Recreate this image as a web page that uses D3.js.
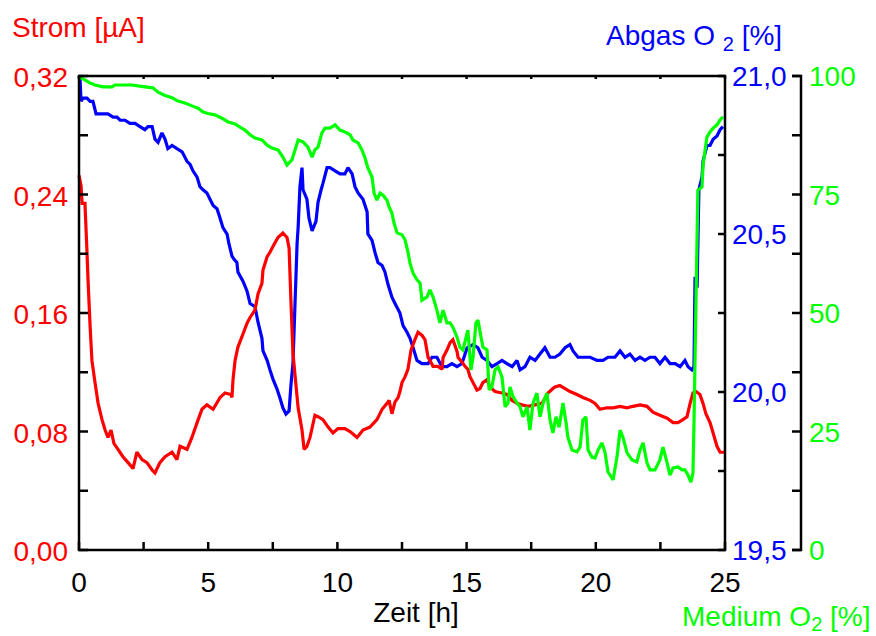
<!DOCTYPE html>
<html>
<head>
<meta charset="utf-8">
<script src="https://cdn.jsdelivr.net/npm/d3@7"></script>
<style>
  body { margin: 0; background: #fff; }
  svg { display: block; }
  text { font-family: "Liberation Sans", Arial, Helvetica, sans-serif; }
</style>
</head>
<body>
<svg id="chart" width="876" height="636"></svg>
<script>
// Sensor current [µA] over time [h]
const stromData = [
  [0.00,0.253],[0.08,0.246],[0.12,0.234],[0.23,0.234],[0.31,0.201],[0.35,0.182],[0.43,0.151],
  [0.50,0.128],[0.62,0.113],[0.74,0.099],[0.89,0.088],[1.01,0.081],[1.12,0.076],[1.24,0.081],
  [1.35,0.072],[1.51,0.068],[1.70,0.063],[1.90,0.059],[2.09,0.055],[2.24,0.066],[2.44,0.061],
  [2.63,0.059],[2.83,0.054],[2.94,0.052],[3.13,0.059],[3.33,0.063],[3.60,0.066],[3.79,0.061],
  [3.91,0.070],[4.18,0.068],[4.37,0.076],[4.57,0.086],[4.76,0.095],[4.95,0.098],[5.19,0.095],
  [5.46,0.103],[5.65,0.106],[5.88,0.105],[5.92,0.103],[5.96,0.115],[6.04,0.128],[6.15,0.137],
  [6.35,0.146],[6.50,0.153],[6.62,0.157],[6.81,0.162],[6.93,0.173],[7.08,0.180],[7.12,0.189],
  [7.28,0.198],[7.39,0.201],[7.51,0.205],[7.70,0.211],[7.89,0.214],[8.05,0.211],[8.13,0.204],
  [8.20,0.169],[8.28,0.133],[8.36,0.118],[8.48,0.096],[8.63,0.081],[8.71,0.068],[8.82,0.070],
  [8.94,0.076],[9.13,0.091],[9.25,0.090],[9.44,0.088],[9.64,0.083],[9.83,0.079],[10.02,0.082],
  [10.29,0.082],[10.49,0.080],[10.76,0.076],[10.99,0.081],[11.26,0.083],[11.53,0.088],
  [11.73,0.095],[11.92,0.099],[12.00,0.101],[12.11,0.092],[12.23,0.100],[12.35,0.103],
  [12.42,0.107],[12.50,0.113],[12.62,0.117],[12.73,0.122],[12.85,0.135],[13.00,0.142],
  [13.12,0.147],[13.27,0.145],[13.39,0.142],[13.51,0.130],[13.58,0.128],[13.70,0.124],
  [13.89,0.124],[14.05,0.122],[14.09,0.130],[14.24,0.135],[14.36,0.140],[14.47,0.142],
  [14.63,0.134],[14.67,0.130],[14.82,0.127],[14.94,0.124],[15.05,0.122],[15.13,0.117],
  [15.25,0.113],[15.40,0.108],[15.52,0.109],[15.63,0.113],[15.79,0.115],[15.91,0.110],
  [16.10,0.107],[16.37,0.106],[16.56,0.105],[16.76,0.101],[16.95,0.099],[17.14,0.098],
  [17.38,0.097],[17.65,0.098],[17.92,0.099],[18.15,0.106],[18.34,0.109],[18.42,0.110],
  [18.61,0.111],[18.81,0.109],[19.00,0.107],[19.27,0.105],[19.50,0.103],[19.78,0.101],
  [19.97,0.099],[20.16,0.095],[20.43,0.096],[20.67,0.096],[20.94,0.097],[21.21,0.096],
  [21.44,0.097],[21.71,0.098],[21.98,0.097],[22.21,0.093],[22.48,0.091],[22.76,0.089],
  [22.99,0.086],[23.18,0.086],[23.37,0.088],[23.53,0.090],[23.65,0.099],[23.76,0.106],
  [23.88,0.107],[24.03,0.105],[24.15,0.099],[24.26,0.092],[24.42,0.086],[24.54,0.079],
  [24.69,0.070],[24.81,0.066],[24.96,0.066]
];

// Exhaust gas oxygen [%]
const abgasData = [
  [0.00,21.00],[0.04,20.99],[0.08,20.92],[0.15,20.93],[0.31,20.93],[0.43,20.92],[0.54,20.92],
  [0.66,20.88],[0.89,20.88],[1.12,20.88],[1.32,20.87],[1.47,20.87],[1.59,20.86],[1.78,20.86],
  [1.97,20.85],[2.17,20.85],[2.36,20.84],[2.55,20.83],[2.67,20.84],[2.83,20.84],[2.94,20.80],
  [3.06,20.79],[3.21,20.82],[3.33,20.80],[3.44,20.77],[3.60,20.78],[3.79,20.77],[3.99,20.76],
  [4.18,20.73],[4.30,20.72],[4.41,20.70],[4.57,20.68],[4.68,20.65],[4.80,20.64],[4.95,20.63],
  [5.07,20.61],[5.19,20.59],[5.34,20.58],[5.46,20.55],[5.57,20.52],[5.73,20.50],[5.80,20.47],
  [5.92,20.43],[6.00,20.42],[6.11,20.41],[6.15,20.38],[6.35,20.35],[6.50,20.32],[6.62,20.28],
  [6.81,20.27],[6.93,20.22],[7.08,20.17],[7.12,20.13],[7.28,20.10],[7.39,20.07],[7.51,20.04],
  [7.66,20.01],[7.78,19.98],[7.89,19.95],[8.01,19.93],[8.13,19.94],[8.20,20.02],[8.28,20.09],
  [8.36,20.28],[8.44,20.47],[8.48,20.52],[8.55,20.65],[8.63,20.71],[8.67,20.64],[8.82,20.61],
  [8.90,20.55],[9.02,20.51],[9.17,20.54],[9.25,20.60],[9.37,20.64],[9.44,20.66],[9.60,20.71],
  [9.71,20.71],[9.91,20.70],[10.10,20.69],[10.29,20.69],[10.41,20.71],[10.57,20.69],
  [10.68,20.65],[10.80,20.63],[10.99,20.61],[11.15,20.57],[11.18,20.50],[11.34,20.48],
  [11.46,20.44],[11.57,20.41],[11.73,20.40],[11.84,20.38],[11.96,20.34],[12.11,20.30],
  [12.23,20.28],[12.42,20.25],[12.54,20.21],[12.69,20.19],[12.81,20.17],[12.93,20.14],
  [13.08,20.10],[13.27,20.09],[13.51,20.09],[13.66,20.11],[13.85,20.11],[14.05,20.08],
  [14.24,20.08],[14.43,20.09],[14.63,20.08],[14.82,20.09],[15.02,20.14],[15.25,20.15],
  [15.44,20.14],[15.60,20.11],[15.79,20.10],[15.98,20.08],[16.18,20.09],[16.37,20.10],
  [16.56,20.09],[16.76,20.08],[16.95,20.10],[17.07,20.07],[17.26,20.08],[17.45,20.11],
  [17.65,20.10],[17.84,20.12],[18.03,20.14],[18.23,20.11],[18.42,20.11],[18.61,20.12],
  [18.81,20.14],[19.00,20.15],[19.12,20.13],[19.31,20.11],[19.50,20.11],[19.78,20.11],
  [20.05,20.10],[20.28,20.10],[20.47,20.11],[20.74,20.11],[20.94,20.13],[21.13,20.11],
  [21.32,20.12],[21.52,20.10],[21.71,20.11],[21.90,20.10],[22.10,20.11],[22.29,20.11],
  [22.48,20.09],[22.68,20.11],[22.87,20.09],[23.07,20.09],[23.26,20.08],[23.45,20.10],
  [23.57,20.08],[23.72,20.07],[23.80,20.08],[23.84,20.36],[23.92,20.36],[23.92,20.33],
  [23.99,20.64],[24.11,20.68],[24.15,20.73],[24.30,20.78],[24.42,20.78],[24.54,20.80],
  [24.69,20.81],[24.81,20.83],[24.92,20.84]
];

// Medium oxygen [%]
const mediumData = [
  [0.00,99.8],[0.23,99.2],[0.43,98.5],[0.62,98.1],[0.93,97.7],[1.28,97.7],[1.39,98.1],
  [1.70,98.1],[2.05,98.1],[2.28,97.9],[2.55,97.7],[2.86,97.5],[3.06,96.6],[3.33,95.9],
  [3.60,95.4],[3.83,94.7],[4.10,94.3],[4.37,93.7],[4.61,93.2],[4.80,92.4],[4.99,92.1],
  [5.26,91.8],[5.53,91.1],[5.77,90.3],[6.04,89.9],[6.23,89.2],[6.42,88.6],[6.62,87.6],
  [6.81,86.9],[7.08,86.5],[7.28,85.4],[7.47,84.8],[7.70,84.4],[7.89,82.9],[8.05,81.2],
  [8.24,82.3],[8.36,84.4],[8.48,86.5],[8.67,86.1],[8.86,85.0],[9.02,82.9],[9.13,84.4],
  [9.25,85.0],[9.40,88.0],[9.52,89.0],[9.71,89.0],[9.91,89.7],[10.10,88.6],[10.29,88.2],
  [10.49,87.6],[10.60,86.5],[10.80,85.9],[10.95,84.4],[11.07,82.7],[11.18,80.6],[11.34,78.7],
  [11.42,75.3],[11.53,73.8],[11.65,75.3],[11.76,74.9],[11.92,73.8],[12.00,72.4],[12.11,71.1],
  [12.19,69.0],[12.31,66.9],[12.50,66.5],[12.62,65.4],[12.73,62.9],[12.81,60.5],[12.93,58.4],
  [13.08,57.0],[13.20,56.3],[13.27,52.7],[13.47,53.4],[13.58,54.9],[13.70,53.4],[13.85,50.6],
  [13.97,47.9],[14.09,50.6],[14.24,47.9],[14.36,47.9],[14.47,47.0],[14.63,44.9],[14.74,42.8],
  [14.86,42.2],[15.02,45.8],[15.05,46.4],[15.17,38.0],[15.25,40.7],[15.36,47.9],[15.44,48.5],
  [15.56,44.9],[15.63,42.8],[15.79,42.2],[15.87,33.8],[15.98,34.4],[16.10,38.0],[16.22,38.6],
  [16.37,36.5],[16.49,30.2],[16.60,31.0],[16.68,34.4],[16.80,32.3],[16.95,31.0],[17.07,30.2],
  [17.18,28.1],[17.34,30.2],[17.45,25.3],[17.57,31.0],[17.72,33.1],[17.84,28.1],[17.96,31.0],
  [18.11,33.1],[18.23,27.4],[18.34,24.7],[18.46,28.1],[18.58,25.9],[18.73,31.0],[18.85,26.8],
  [18.92,23.8],[19.08,21.1],[19.27,20.7],[19.39,21.7],[19.50,27.4],[19.62,28.1],[19.70,21.1],
  [19.85,19.6],[19.97,19.4],[20.09,21.1],[20.24,22.6],[20.36,20.5],[20.47,16.5],[20.67,14.8],
  [20.82,19.6],[20.94,25.3],[21.05,23.8],[21.21,20.5],[21.40,19.0],[21.59,18.6],[21.71,21.1],
  [21.83,22.6],[21.98,18.4],[22.10,16.9],[22.29,16.9],[22.48,19.0],[22.60,21.7],[22.76,18.4],
  [22.87,15.8],[22.99,17.3],[23.18,17.5],[23.34,16.9],[23.45,16.9],[23.57,15.8],[23.68,14.3],
  [23.76,16.2],[23.80,26.8],[23.88,53.4],[23.95,75.9],[24.11,76.6],[24.15,81.2],[24.30,87.1],
  [24.42,88.2],[24.54,89.0],[24.69,89.7],[24.81,90.7],[24.92,91.4]
];

const xTickLabels = [0, 5, 10, 15, 20, 25];
const xMinorTicks = [0, 2.5, 5, 7.5, 10, 12.5, 15, 17.5, 20, 22.5, 25];
const stromTicks = [0, 0.04, 0.08, 0.12, 0.16, 0.2, 0.24, 0.28, 0.32];
const stromLabels = [0, 0.08, 0.16, 0.24, 0.32];
const abgasTicks = [19.5, 19.75, 20, 20.25, 20.5, 20.75, 21];
const abgasLabels = [19.5, 20, 20.5, 21];
const mediumTicks = [0, 12.5, 25, 37.5, 50, 62.5, 75, 87.5, 100];
const mediumLabels = [0, 25, 50, 75, 100];

const RED = "#ff0000", BLUE = "#0000ff", GREEN = "#00ff00";
const plot = { left: 79, right: 725, top: 76, bottom: 550 };
const axis2X = 801;
const FS = 28;

const de = d3.formatLocale({ decimal: ",", thousands: ".", grouping: [3], currency: ["", " €"] });
const fmt2 = de.format(".2f");
const fmt1 = de.format(".1f");

const svg = d3.select("#chart");

const x = d3.scaleLinear().domain([0, 25]).range([plot.left, plot.right]);
const yStrom = d3.scaleLinear().domain([0, 0.32]).range([plot.bottom, plot.top]);
const yAbgas = d3.scaleLinear().domain([19.5, 21]).range([plot.bottom, plot.top]);
const yMedium = d3.scaleLinear().domain([0, 100]).range([plot.bottom, plot.top]);

// data lines
const lineOf = (ys) => d3.line().x(d => x(d[0])).y(d => ys(d[1]));
const lines = svg.append("g")
  .attr("fill", "none").attr("stroke-width", 3.2)
  .attr("stroke-linejoin", "miter").attr("stroke-miterlimit", 2);
lines.append("path").datum(abgasData).attr("stroke", BLUE).attr("d", lineOf(yAbgas));
lines.append("path").datum(stromData).attr("stroke", RED).attr("d", lineOf(yStrom));
lines.append("path").datum(mediumData).attr("stroke", GREEN).attr("d", lineOf(yMedium));

// frame and ticks
const ax = svg.append("g").attr("stroke", "#000").attr("stroke-width", 2.5).attr("fill", "none");
ax.append("path").attr("stroke-linecap", "square")
  .attr("d", `M${plot.left},${plot.top}H${plot.right}V${plot.bottom}H${plot.left}Z`);
ax.append("path").attr("d", `M${axis2X - 9},${plot.top}H${axis2X}V${plot.bottom}H${axis2X - 9}`);

ax.selectAll(".tb").data(xMinorTicks).join("line")
  .attr("x1", d => x(d)).attr("x2", d => x(d))
  .attr("y1", plot.bottom).attr("y2", plot.bottom - 8);
ax.selectAll(".tt").data(xMinorTicks).join("line")
  .attr("x1", d => x(d)).attr("x2", d => x(d))
  .attr("y1", plot.top).attr("y2", plot.top + 3);
ax.selectAll(".tl").data(stromTicks).join("line")
  .attr("x1", plot.left).attr("x2", plot.left + 9)
  .attr("y1", d => yStrom(d)).attr("y2", d => yStrom(d));
ax.selectAll(".tr").data(abgasTicks).join("line")
  .attr("x1", plot.right).attr("x2", plot.right - 7)
  .attr("y1", d => yAbgas(d)).attr("y2", d => yAbgas(d));
ax.selectAll(".tm").data(mediumTicks).join("line")
  .attr("x1", axis2X).attr("x2", axis2X - 9)
  .attr("y1", d => yMedium(d)).attr("y2", d => yMedium(d));

// tick labels
const txt = svg.append("g").attr("font-size", FS);
txt.selectAll(".lx").data(xTickLabels).join("text")
  .attr("x", d => x(d)).attr("y", 592).attr("text-anchor", "middle").attr("fill", "#000")
  .text(d => d);
txt.selectAll(".ls").data(stromLabels).join("text")
  .attr("x", 68).attr("y", d => yStrom(d) + 11).attr("text-anchor", "end").attr("fill", RED)
  .text(d => fmt2(d));
txt.selectAll(".la").data(abgasLabels).join("text")
  .attr("x", 732).attr("y", d => yAbgas(d) + 10).attr("fill", BLUE)
  .text(d => fmt1(d));
txt.selectAll(".lm").data(mediumLabels).join("text")
  .attr("x", 809).attr("y", d => yMedium(d) + 10).attr("fill", GREEN)
  .text(d => d);

// axis titles
txt.append("text").attr("x", 12).attr("y", 37).attr("fill", RED).text("Strom [µA]");
txt.append("text").attr("x", 416).attr("y", 622).attr("text-anchor", "middle").attr("fill", "#000")
  .text("Zeit [h]");

const tA = txt.append("text").attr("x", 606).attr("y", 45).attr("fill", BLUE);
tA.append("tspan").text("Abgas O ");
tA.append("tspan").attr("font-size", 20).attr("dy", 6).text("2");
tA.append("tspan").attr("dy", -6).text(" [%]");

const tM = txt.append("text").attr("x", 682).attr("y", 626).attr("fill", GREEN);
tM.append("tspan").text("Medium O");
tM.append("tspan").attr("font-size", 20).attr("dy", 5).text("2");
tM.append("tspan").attr("dy", -5).text(" [%]");
</script>
</body>
</html>
